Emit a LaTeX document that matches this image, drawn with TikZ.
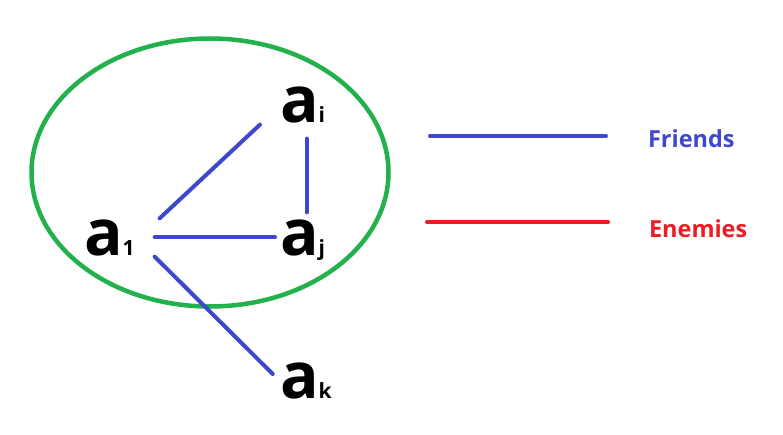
\documentclass[tikz,border=0pt]{standalone}
\usepackage{fontspec}
\setmainfont{Open Sans}
\usetikzlibrary{positioning}
\definecolor{friendblue}{HTML}{3F48CC}
\definecolor{enemyred}{HTML}{ED1C24}
\definecolor{groupgreen}{HTML}{22B14C}
\newcommand{\subtxt}[1]{{\fontsize{21}{21}\selectfont #1}}

\begin{document}
\begin{tikzpicture}[x=1pt, y=-1pt,
  agent/.style={anchor=base west, inner xsep=20pt, inner ysep=1pt, outer sep=0pt,
                font=\fontsize{64}{64}\selectfont\bfseries},
  legend/.style={anchor=base west, inner sep=0pt, outer sep=0pt,
                 font=\fontsize{23.5}{23.5}\selectfont\bfseries},
  friend/.style={draw=friendblue, line width=4pt, line cap=round},
  enemy/.style={draw=enemyred, line width=4pt, line cap=round}
]
  \useasboundingbox (0,0) rectangle (783,435);

  % the group
  \draw[groupgreen, line width=4.5pt] (210,172.5) ellipse [x radius=178.5, y radius=134];

  \node[agent] (a1) at (64,255)  {a\subtxt{1}};
  \node[agent] (ai) at (260,123) {a\subtxt{i}};
  \node[agent] (aj) at (260,255) {a\subtxt{j}};
  \node[agent] (ak) at (260,398) {a\subtxt{k}};

  \draw[friend] ([xshift=5pt]a1.north east) -- (ai.south west);
  \draw[friend, shorten <=14pt, shorten >=6pt] ([xshift=4pt]ai.south) -- ([xshift=4pt]aj.north);
  \draw[friend, shorten >=-15pt] (a1.east) -- (a1.east -| aj.west);
  \draw[friend, shorten >=-18pt] (a1.south east) -- (ak.north west);

  % legend
  \node[legend, text=friendblue] (fr) at (648,148) {Friends};
  \node[legend, text=enemyred]   (en) at (649,238) {Enemies};
  \coordinate (fstart) at (430,136);
  \coordinate (estart) at (427,222);
  \draw[friend, shorten >=42pt] (fstart) -- (fstart -| fr.west);
  \draw[enemy, shorten >=41pt] (estart) -- (estart -| en.west);
\end{tikzpicture}
\end{document}
